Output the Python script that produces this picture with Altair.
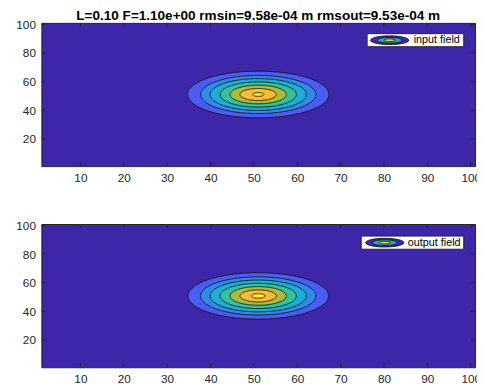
import altair as alt
import pandas as pd
import numpy as np

# ---- values ----
title_text = "L=0.10 F=1.10e+00 rmsin=9.58e-04 m rmsout=9.53e-04 m"
x_ticks = [10, 20, 30, 40, 50, 60, 70, 80, 90, 100]
y_ticks = [20, 40, 60, 80, 100]
axis_domain = [1, 101]

levels = [1, 2, 3, 4, 5, 6, 7]
band_colors = ["#4A5CF5", "#2F8BEA", "#1AAED8", "#33C2A0", "#A8BE3A", "#FCBA3D", "#F5F01A"]
background = "#3E26A8"

# contour radii (data units) of each level, from outermost to innermost
radii_in = [16.3, 13.3, 11.1, 8.8, 6.5, 4.2, 1.3]
radii_out = [16.2, 13.3, 11.1, 8.8, 6.5, 4.2, 1.6]
center_in = [51.0, 51.0]
center_out = [51.0, 50.8]

legend_labels = ["input field", "output field"]

# ---- layout / style ----
W, H = 442, 146
FONT = "Liberation Sans"
INK = "#262626"
ELLIPSE = "M-1,0A1,0.23,0,1,1,1,0A1,0.23,0,1,1,-1,0Z"

xs = alt.Scale(domain=axis_domain, nice=False, zero=False)
ys = alt.Scale(domain=axis_domain, nice=False, zero=False)


def xenc(field):
    return alt.X(field, type="quantitative", scale=xs,
                 axis=alt.Axis(values=x_ticks, title=None, ticks=False, tickSize=0,
                               domain=False, grid=False, labelPadding=7))


def yenc(field):
    return alt.Y(field, type="quantitative", scale=ys,
                 axis=alt.Axis(values=y_ticks, title=None, ticks=False, tickSize=0,
                               domain=False, grid=False, labelPadding=6))


def contour_table(radii, center):
    rows = []
    t = np.linspace(0, np.pi, 121)
    for lev, r in zip(levels, radii):
        for tt in t:
            rows.append({"level": lev,
                         "x": center[0] + r * np.cos(tt),
                         "y": center[1] + r * np.sin(tt),
                         "y2": center[1] - r * np.sin(tt)})
    return pd.DataFrame(rows)


def panel(radii, center, label, box, icon, text_x, title=None):
    df = contour_table(radii, center)
    base = alt.Chart(df)
    layers = []
    for lev, col in zip(levels, band_colors):
        layers.append(
            base.transform_filter(alt.datum.level == lev)
            .mark_area(fill=col, stroke="#141414", strokeWidth=0.9, clip=True)
            .encode(x=xenc("x"), y=yenc("y"), y2="y2")
        )
    xt = alt.Chart(pd.DataFrame({"v": x_ticks}))
    yt = alt.Chart(pd.DataFrame({"v": y_ticks}))
    layers += [
        xt.mark_rule(color=INK, strokeWidth=1).encode(x=xenc("v"), y=alt.value(0), y2=alt.value(4)),
        xt.mark_rule(color=INK, strokeWidth=1).encode(x=xenc("v"), y=alt.value(H - 4), y2=alt.value(H)),
        yt.mark_rule(color=INK, strokeWidth=1).encode(y=yenc("v"), x=alt.value(0), x2=alt.value(4)),
        yt.mark_rule(color=INK, strokeWidth=1).encode(y=yenc("v"), x=alt.value(W - 4), x2=alt.value(W)),
    ]
    lg = alt.Chart(pd.DataFrame({"label": [label]}))
    layers.append(lg.mark_rect(fill="white", stroke=INK, strokeWidth=1).encode(
        x=alt.value(box[0]), x2=alt.value(box[1]), y=alt.value(box[2]), y2=alt.value(box[3])))
    for size, col in [(39, background), (25, "#1FB1C9"), (12, "#E6DB2A")]:
        layers.append(lg.mark_point(shape=ELLIPSE, size=size * size, filled=True, fill=col,
                                    stroke="#111111", strokeWidth=0.8, opacity=1).encode(
            x=alt.value(icon[0]), y=alt.value(icon[1])))
    layers.append(lg.mark_text(align="left", baseline="middle", font=FONT, fontSize=11,
                               color="black").encode(
        x=alt.value(text_x), y=alt.value(icon[1]), text="label:N"))
    ch = alt.layer(*layers).properties(width=W, height=H)
    if title:
        ch = ch.properties(title=alt.Title(title, fontSize=13.8, fontWeight="bold", font=FONT,
                                           color="black", offset=-4.5, anchor="middle",
                                           frame="group"))
    return ch


top = panel(radii_in, center_in, legend_labels[0], (332, 430.5, 11, 24.3), (355, 17.7), 379.5,
            title=title_text)
bottom = panel(radii_out, center_out, legend_labels[1], (326, 430.5, 12.3, 25.7), (350, 19), 373.5)

chart = (
    alt.vconcat(top, bottom, spacing=34)
    .properties(padding={"left": 7, "top": -3.5, "right": -5, "bottom": 0})
    .configure_view(fill=background, stroke=INK, strokeWidth=1)
    .configure_axis(labelFont=FONT, labelFontSize=12, labelColor=INK)
)

chart.save("out.html", embed_options={"renderer": "svg", "actions": False})
